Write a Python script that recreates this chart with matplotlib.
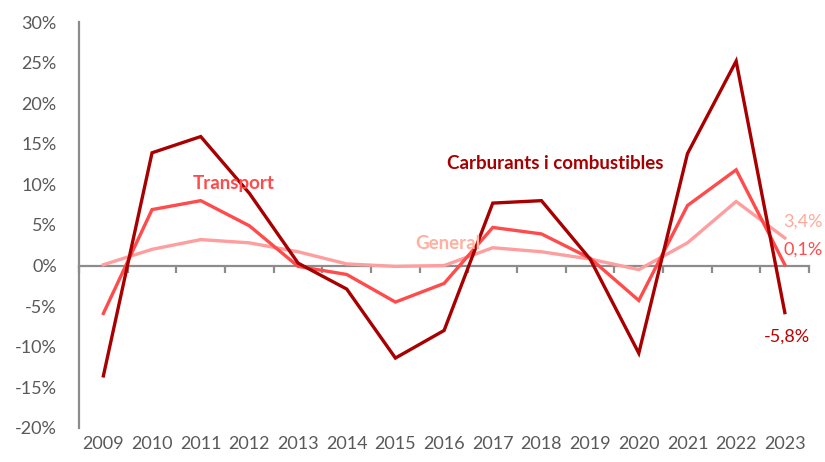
import matplotlib
matplotlib.use('Agg')
import matplotlib.pyplot as plt
import numpy as np

plt.rcParams['font.family'] = ['Lato', 'DejaVu Sans']

years = ['2009', '2010', '2011', '2012', '2013', '2014', '2015', '2016',
         '2017', '2018', '2019', '2020', '2021', '2022', '2023']
carburants = [-13.6, 13.9, 15.9, 8.9, 0.3, -2.9, -11.4, -8.0,
              7.7, 8.0, 0.8, -10.8, 13.8, 25.2, -5.8]
transport = [-5.9, 6.9, 8.0, 4.9, -0.1, -1.1, -4.5, -2.2,
             4.7, 3.9, 0.9, -4.3, 7.4, 11.8, 0.1]
general = [0.1, 2.0, 3.2, 2.8, 1.7, 0.2, -0.1, 0.0,
           2.2, 1.7, 0.8, -0.5, 2.8, 7.9, 3.4]

c_dark = '#A80000'
c_mid = '#FF4B4B'
c_light = '#FF9E9E'
grey = '#595959'

fig = plt.figure(figsize=(8.25, 4.62), dpi=100)
ax = fig.add_axes([0.0958, 0.074, 0.885, 0.878])
x = np.arange(len(years))

ax.plot(x, general, color=c_light, lw=2.4, solid_joinstyle='miter')
ax.plot(x, transport, color=c_mid, lw=2.4, solid_joinstyle='miter')
ax.plot(x, carburants, color=c_dark, lw=2.4, solid_joinstyle='miter')

ax.set_xlim(-0.5, len(years) - 0.5)
ax.set_ylim(-20, 30)
ax.set_yticks(range(-20, 31, 5))
ax.set_yticklabels([f'{v}%' for v in range(-20, 31, 5)], fontsize=13, color=grey)
ax.tick_params(axis='y', length=0, pad=16)

ax.set_xticks(x)
ax.set_xticklabels(years, fontsize=13, color=grey)
ax.tick_params(axis='x', length=0, pad=6)

for s in ['top', 'right', 'bottom']:
    ax.spines[s].set_visible(False)
ax.spines['left'].set_color('#8C8C8C')
ax.spines['left'].set_linewidth(1.6)

# zero line with ticks between categories
sec = ax.secondary_xaxis(0.4)
sec.set_xticks(np.arange(-0.5, len(years), 1.0))
sec.set_xticklabels([])
sec.tick_params(axis='x', length=5, width=1.6, color='#8C8C8C', direction='out')
sec.spines['bottom'].set_color('#8C8C8C')
sec.spines['bottom'].set_linewidth(1.6)

ax.text(2.68, 10.1, 'Transport', color=c_mid, fontsize=13.5, fontweight='bold',
        ha='center', va='center')
ax.text(7.07, 2.7, 'General', color='#FFB0A0', fontsize=13.5, fontweight='bold',
        ha='center', va='center')
ax.text(9.28, 12.6, 'Carburants i combustibles', color=c_dark, fontsize=13.5,
        fontweight='bold', ha='center', va='center')

ax.text(13.97, 5.4, '3,4%', color='#FFA898', fontsize=13, ha='left', va='center')
ax.text(13.97, 2.0, '0,1%', color=c_mid, fontsize=13, ha='left', va='center')
ax.text(14.04, -8.7, '-5,8%', color='#C00000', fontsize=13, ha='center', va='center')

fig.savefig('out.png', dpi=100)
